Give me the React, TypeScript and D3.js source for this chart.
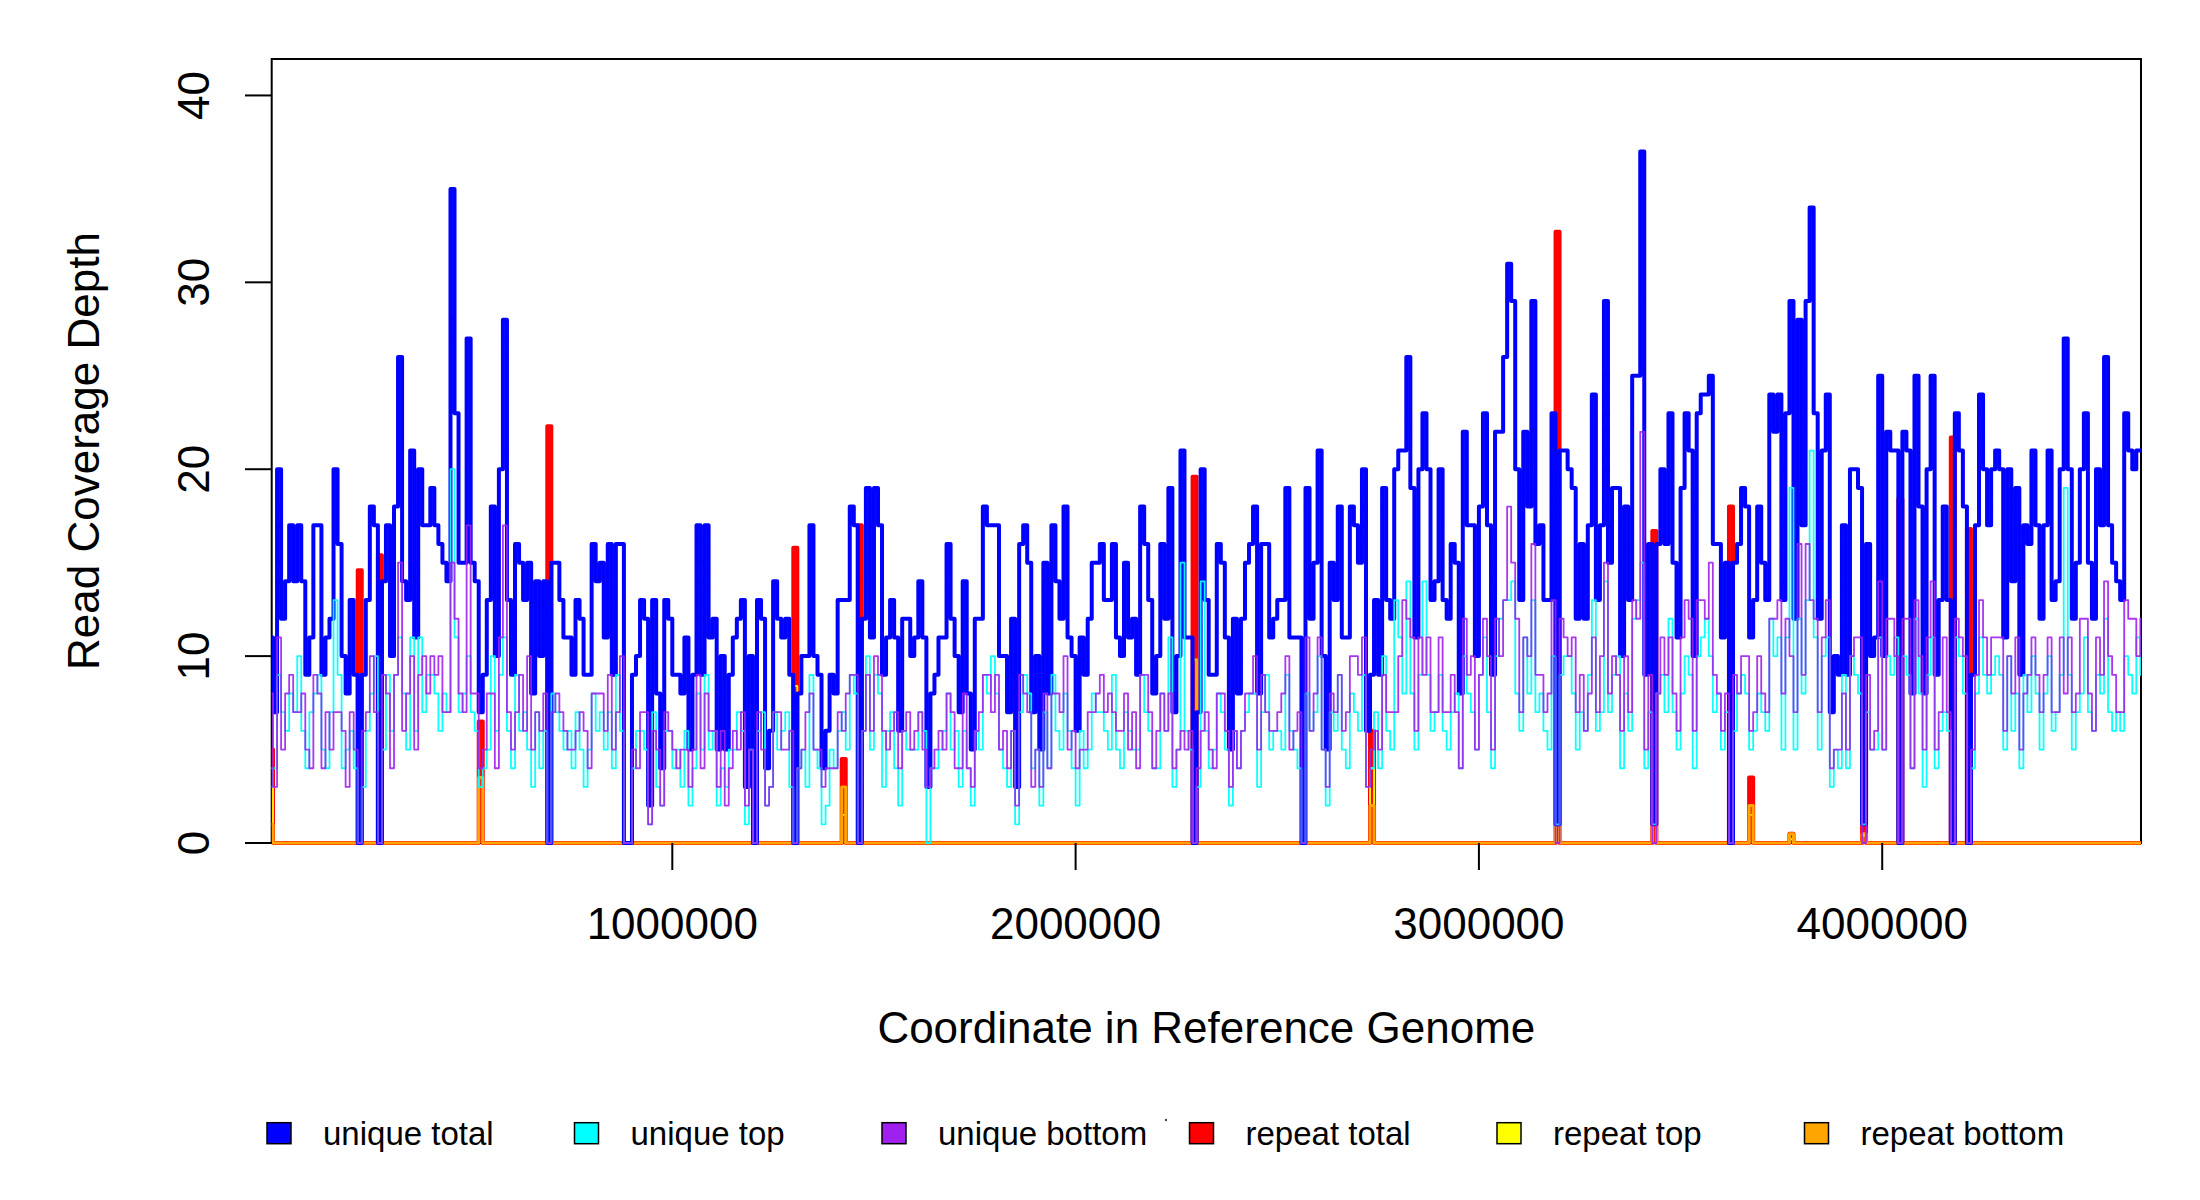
import * as d3 from "d3";
import React from "react";

const WIDTH = 2200;
const HEIGHT = 1200;
const PLOT = { left: 271.7, right: 2141, top: 59, bottom: 843 };
const FONT = "'Liberation Sans', Arial, Helvetica, sans-serif";

// genome binned in 10 kb windows, plotted as step lines
const BIN_SIZE = 10000;
const X_DOMAIN: [number, number] = [6700, 4641652];
const Y_MAX = 41.95;

const xTicks = [1000000, 2000000, 3000000, 4000000];
const yTicks = [0, 10, 20, 30, 40];

const uniqueTotal = [
    11, 7, 20, 12, 14, 17, 14, 17, 14, 9, 11, 17, 17, 9, 11, 12, 20, 16, 10, 8,
    13, 9, 0, 9, 13, 18, 17, 0, 14, 17, 10, 18, 26, 14, 13, 21, 11, 20, 17, 17,
    19, 17, 16, 15, 14, 35, 23, 15, 15, 27, 15, 14, 7, 9, 13, 18, 10, 20, 28, 13,
    9, 16, 15, 13, 15, 8, 14, 10, 14, 0, 15, 15, 13, 11, 11, 9, 13, 12, 9, 9,
    16, 14, 15, 11, 16, 9, 16, 16, 0, 0, 9, 10, 13, 12, 2, 13, 8, 4, 13, 12,
    9, 9, 8, 11, 5, 9, 17, 9, 17, 11, 12, 5, 10, 5, 9, 11, 12, 13, 3, 10,
    0, 13, 12, 4, 6, 14, 12, 11, 12, 9, 0, 8, 10, 10, 17, 10, 9, 4, 6, 9,
    8, 13, 13, 13, 18, 17, 0, 12, 19, 11, 19, 17, 9, 11, 13, 11, 6, 12, 12, 10,
    11, 14, 11, 3, 8, 9, 11, 11, 16, 12, 10, 7, 14, 8, 5, 12, 12, 18, 17, 17,
    17, 10, 10, 7, 12, 3, 16, 17, 15, 7, 10, 5, 15, 8, 17, 14, 12, 18, 11, 10,
    6, 11, 9, 12, 15, 15, 16, 13, 13, 16, 11, 10, 15, 11, 12, 9, 18, 16, 13, 8,
    10, 16, 12, 19, 7, 10, 21, 11, 11, 0, 7, 20, 13, 9, 9, 16, 15, 11, 5, 12,
    8, 12, 15, 16, 18, 8, 16, 16, 11, 12, 13, 13, 19, 11, 11, 11, 0, 19, 12, 15,
    21, 10, 5, 15, 13, 18, 11, 11, 18, 17, 15, 20, 6, 9, 13, 9, 19, 13, 12, 20,
    21, 21, 26, 19, 11, 20, 23, 20, 13, 14, 20, 13, 12, 16, 15, 8, 22, 17, 17, 10,
    18, 23, 17, 9, 22, 22, 26, 31, 29, 20, 13, 22, 18, 29, 16, 17, 13, 13, 23, 1,
    21, 21, 20, 19, 12, 16, 12, 17, 24, 13, 17, 29, 15, 19, 19, 10, 18, 13, 25, 25,
    37, 9, 16, 1, 16, 20, 16, 23, 15, 11, 19, 23, 21, 10, 23, 24, 24, 25, 16, 16,
    11, 15, 0, 15, 16, 19, 18, 11, 13, 18, 15, 13, 24, 22, 24, 13, 23, 29, 12, 28,
    17, 29, 34, 23, 12, 21, 24, 7, 10, 9, 17, 9, 20, 20, 19, 1, 16, 10, 11, 25,
    10, 22, 21, 21, 0, 22, 21, 8, 25, 18, 8, 20, 25, 9, 13, 18, 13, 0, 23, 21,
    18, 0, 9, 17, 24, 20, 17, 20, 21, 20, 11, 20, 14, 19, 9, 17, 16, 21, 17, 12,
    17, 21, 13, 14, 20, 27, 20, 12, 15, 20, 23, 15, 12, 20, 17, 26, 17, 15, 14, 13,
    23, 21, 20, 21, 21,
];

const uniqueTop = [
    3, 4, 9, 7, 6, 8, 7, 10, 6, 4, 7, 8, 9, 5, 4, 7, 13, 9, 4, 5,
    6, 4, 0, 3, 6, 8, 10, 0, 5, 9, 6, 9, 11, 8, 5, 11, 6, 11, 7, 9,
    9, 8, 6, 8, 7, 20, 11, 7, 8, 10, 7, 6, 3, 4, 5, 10, 6, 9, 11, 6,
    4, 9, 6, 7, 5, 3, 7, 4, 6, 0, 8, 7, 6, 5, 6, 4, 7, 5, 3, 5,
    8, 6, 7, 5, 7, 4, 9, 6, 0, 0, 4, 6, 6, 5, 1, 7, 3, 2, 6, 6,
    4, 5, 3, 6, 2, 4, 8, 5, 9, 5, 6, 2, 4, 3, 5, 5, 7, 6, 1, 5,
    0, 6, 7, 2, 3, 7, 5, 6, 7, 3, 0, 4, 5, 3, 9, 5, 4, 1, 2, 5,
    4, 6, 7, 5, 9, 8, 0, 6, 10, 5, 9, 8, 3, 6, 7, 4, 2, 6, 5, 5,
    5, 7, 6, 0, 4, 4, 5, 6, 8, 5, 6, 3, 6, 4, 2, 6, 5, 9, 8, 10,
    8, 5, 4, 3, 6, 1, 7, 9, 8, 4, 5, 2, 7, 4, 9, 6, 5, 8, 6, 4,
    2, 6, 4, 5, 8, 7, 7, 6, 5, 9, 5, 4, 7, 6, 5, 5, 9, 7, 6, 4,
    4, 8, 6, 11, 3, 5, 15, 6, 5, 0, 3, 14, 6, 4, 5, 8, 7, 5, 2, 6,
    4, 6, 7, 8, 8, 3, 7, 9, 5, 6, 6, 5, 9, 6, 5, 4, 0, 8, 6, 7,
    10, 5, 2, 7, 6, 9, 5, 4, 8, 7, 6, 9, 3, 4, 7, 4, 10, 6, 5, 13,
    11, 8, 14, 8, 5, 9, 14, 9, 6, 7, 9, 6, 5, 7, 8, 4, 10, 8, 7, 5,
    9, 11, 7, 4, 10, 12, 13, 13, 14, 8, 6, 11, 8, 13, 7, 8, 6, 5, 10, 1,
    9, 10, 10, 8, 5, 7, 6, 9, 13, 6, 7, 14, 7, 9, 10, 4, 8, 6, 12, 13,
    15, 4, 7, 1, 8, 9, 7, 12, 7, 5, 8, 10, 9, 4, 10, 11, 12, 10, 7, 8,
    5, 7, 0, 6, 8, 9, 8, 5, 6, 8, 7, 6, 12, 10, 11, 5, 11, 19, 5, 12,
    8, 13, 21, 11, 5, 10, 11, 3, 5, 4, 9, 4, 10, 9, 8, 1, 7, 5, 5, 11,
    5, 10, 9, 11, 0, 10, 9, 4, 12, 8, 3, 9, 11, 4, 6, 7, 6, 0, 11, 10,
    8, 0, 4, 8, 11, 9, 8, 9, 10, 9, 5, 10, 6, 8, 4, 9, 7, 10, 8, 5,
    8, 10, 6, 7, 9, 19, 9, 5, 7, 8, 11, 7, 6, 9, 8, 12, 7, 6, 7, 6,
    10, 9, 8, 11, 9,
];

const uniqueBottom = [
    8, 3, 11, 5, 8, 9, 7, 7, 8, 5, 4, 9, 8, 4, 7, 5, 7, 7, 6, 3,
    7, 5, 0, 6, 7, 10, 7, 0, 9, 8, 4, 9, 15, 6, 8, 10, 5, 9, 10, 8,
    10, 9, 10, 7, 7, 15, 12, 8, 7, 17, 8, 8, 4, 5, 8, 8, 4, 11, 17, 7,
    5, 7, 9, 6, 10, 5, 7, 6, 8, 0, 7, 8, 7, 6, 5, 5, 6, 7, 6, 4,
    8, 8, 8, 6, 9, 5, 7, 10, 0, 0, 5, 4, 7, 7, 1, 6, 5, 2, 7, 6,
    5, 4, 5, 5, 3, 5, 9, 4, 8, 6, 6, 3, 6, 2, 4, 6, 5, 7, 2, 5,
    0, 7, 5, 2, 3, 7, 7, 5, 5, 6, 0, 4, 5, 7, 8, 5, 5, 3, 4, 4,
    4, 7, 6, 8, 9, 9, 0, 6, 9, 6, 10, 9, 6, 5, 6, 7, 4, 6, 7, 5,
    6, 7, 5, 3, 4, 5, 6, 5, 8, 7, 4, 4, 8, 4, 3, 6, 7, 9, 9, 7,
    9, 5, 6, 4, 6, 2, 9, 8, 7, 3, 5, 3, 8, 4, 8, 8, 7, 10, 5, 6,
    4, 5, 5, 7, 7, 8, 9, 7, 8, 7, 6, 6, 8, 5, 7, 4, 9, 9, 7, 4,
    6, 8, 6, 8, 4, 5, 6, 5, 6, 0, 4, 6, 7, 5, 4, 8, 8, 6, 3, 6,
    4, 6, 8, 8, 10, 5, 9, 7, 6, 6, 7, 8, 10, 5, 6, 7, 0, 11, 6, 8,
    11, 5, 3, 8, 7, 9, 6, 7, 10, 10, 9, 11, 3, 5, 6, 5, 9, 7, 7, 7,
    10, 13, 12, 11, 6, 11, 9, 11, 7, 7, 11, 7, 7, 9, 7, 4, 12, 9, 10, 5,
    9, 12, 10, 5, 12, 10, 13, 18, 15, 12, 7, 11, 10, 16, 9, 9, 7, 8, 13, 0,
    12, 11, 10, 11, 7, 9, 6, 8, 11, 7, 10, 15, 8, 10, 9, 6, 10, 7, 13, 12,
    22, 5, 9, 0, 8, 11, 9, 11, 8, 6, 11, 13, 12, 6, 13, 13, 12, 15, 9, 8,
    6, 8, 0, 9, 8, 10, 10, 6, 7, 10, 8, 7, 12, 12, 13, 8, 12, 10, 7, 16,
    9, 16, 13, 12, 7, 11, 13, 4, 5, 5, 8, 5, 10, 11, 11, 0, 9, 5, 6, 14,
    5, 12, 12, 10, 0, 12, 12, 4, 13, 10, 5, 11, 14, 5, 7, 11, 7, 0, 12, 11,
    10, 0, 5, 9, 13, 11, 9, 11, 11, 11, 6, 10, 8, 11, 5, 8, 9, 11, 9, 7,
    9, 11, 7, 7, 11, 8, 11, 7, 8, 12, 12, 8, 6, 11, 9, 14, 10, 9, 7, 7,
    13, 12, 12, 10, 12,
];

// repeat reads only show up in a few bins (rRNA operons etc.), zero elsewhere
const repeatBins = [0, 22, 27, 52, 69, 130, 142, 146, 229, 273, 319, 343, 362, 367, 377, 395, 404, 417, 421];
const repeatTotalPeaks = [5, 14.6, 15.4, 6.5, 22.3, 15.8, 4.5, 17, 19.6, 6, 32.7, 16.7, 18, 3.5, 0.5, 0.9, 18.4, 21.7, 16.8];
const repeatTopPeaks = [4, 7.6, 8, 3, 9.9, 8.4, 1.5, 6, 9.8, 4, 16.4, 8, 9, 1.5, 0.2, 0.4, 9, 11, 8];
const repeatBottomPeaks = [1, 7, 7.4, 3.5, 12.4, 7.4, 3, 11, 9.8, 2, 16.3, 8.7, 9, 2, 0.5, 0.5, 9.4, 10.7, 8.8];

const legendLabels = ["unique total", "unique top", "unique bottom", "repeat total", "repeat top", "repeat bottom"];
const legendColors = ["#0000FF", "#00FFFF", "#A020F0", "#FF0000", "#FFFF00", "#FFA500"];

const spreadRepeats = (peaks: number[]) => {
    const out = uniqueTotal.map(() => 0);
    repeatBins.forEach((b, i) => {
        out[b] = peaks[i];
    });
    return out;
};

const App: React.FC = () => {
    const xScale = d3.scaleLinear().domain(X_DOMAIN).range([PLOT.left, PLOT.right]);
    const yScale = d3.scaleLinear().domain([0, Y_MAX]).range([PLOT.bottom, PLOT.top]);

    const stepPath = (values: number[]) => {
        const pts: [number, number][] = values.map((v, i) => [i * BIN_SIZE, v]);
        pts.push([values.length * BIN_SIZE, values[values.length - 1]]);
        return (
            d3
                .line<[number, number]>()
                .x((d) => xScale(d[0]))
                .y((d) => yScale(d[1]))
                .curve(d3.curveStepAfter)(pts) || ""
        );
    };

    // drawing order: repeats underneath, unique total on top of them, strands last
    const layers = [
        { values: spreadRepeats(repeatTotalPeaks), color: "#FF0000", width: 4, opacity: 1 },
        { values: spreadRepeats(repeatTopPeaks), color: "#FFFF00", width: 1.8, opacity: 1 },
        { values: spreadRepeats(repeatBottomPeaks), color: "#FFA500", width: 3, opacity: 1 },
        { values: uniqueTotal, color: "#0000FF", width: 4, opacity: 1 },
        { values: uniqueTop, color: "#00FFFF", width: 1.8, opacity: 0.95 },
        { values: uniqueBottom, color: "#A020F0", width: 1.8, opacity: 0.9 },
    ];

    const legendStep = 307.5;
    const legendX0 = 267;
    const legendY = 1122.7;

    return (
        <div style={{ position: "absolute", left: 0, top: 0, background: "#fff" }}>
            <svg width={WIDTH} height={HEIGHT} style={{ display: "block", background: "#fff" }}>
                <defs>
                    <clipPath id="plotClip">
                        <rect
                            x={PLOT.left}
                            y={PLOT.top}
                            width={PLOT.right - PLOT.left}
                            height={PLOT.bottom - PLOT.top + 3}
                        />
                    </clipPath>
                </defs>

                <rect
                    x={PLOT.left}
                    y={PLOT.top}
                    width={PLOT.right - PLOT.left}
                    height={PLOT.bottom - PLOT.top}
                    fill="none"
                    stroke="#000"
                    strokeWidth={2}
                />

                <g clipPath="url(#plotClip)">
                    {layers.map((l, i) => (
                        <path
                            key={i}
                            d={stepPath(l.values)}
                            fill="none"
                            stroke={l.color}
                            strokeWidth={l.width}
                            strokeOpacity={l.opacity}
                            strokeLinejoin="round"
                            strokeLinecap="round"
                        />
                    ))}
                </g>

                {/* y axis */}
                {yTicks.map((t) => (
                    <g key={t}>
                        <line x1={245} x2={PLOT.left} y1={yScale(t)} y2={yScale(t)} stroke="#000" strokeWidth={2} />
                        <text
                            transform={`translate(209,${yScale(t)}) rotate(-90)`}
                            textAnchor="middle"
                            fontFamily={FONT}
                            fontSize={44}
                            fill="#000"
                        >
                            {t}
                        </text>
                    </g>
                ))}

                {/* x axis */}
                {xTicks.map((t) => (
                    <g key={t}>
                        <line x1={xScale(t)} x2={xScale(t)} y1={PLOT.bottom} y2={870} stroke="#000" strokeWidth={2} />
                        <text x={xScale(t)} y={939} textAnchor="middle" fontFamily={FONT} fontSize={44} fill="#000">
                            {t}
                        </text>
                    </g>
                ))}

                <text
                    x={(PLOT.left + PLOT.right) / 2}
                    y={1043}
                    textAnchor="middle"
                    fontFamily={FONT}
                    fontSize={44}
                    fill="#000"
                >
                    Coordinate in Reference Genome
                </text>
                <text
                    transform={`translate(98.5,${(PLOT.top + PLOT.bottom) / 2}) rotate(-90)`}
                    textAnchor="middle"
                    fontFamily={FONT}
                    fontSize={44}
                    fill="#000"
                >
                    Read Coverage Depth
                </text>

                {/* legend */}
                {legendLabels.map((label, i) => (
                    <g key={label} transform={`translate(${legendX0 + i * legendStep},${legendY})`}>
                        <rect x={0} y={0} width={24} height={21} fill={legendColors[i]} stroke="#000" strokeWidth={1.5} />
                        <text x={56} y={22.5} fontFamily={FONT} fontSize={33} fill="#000">
                            {label}
                        </text>
                    </g>
                ))}
                <circle cx={1166} cy={1120} r={1.2} fill="#444" />
            </svg>
        </div>
    );
};

export default App;
